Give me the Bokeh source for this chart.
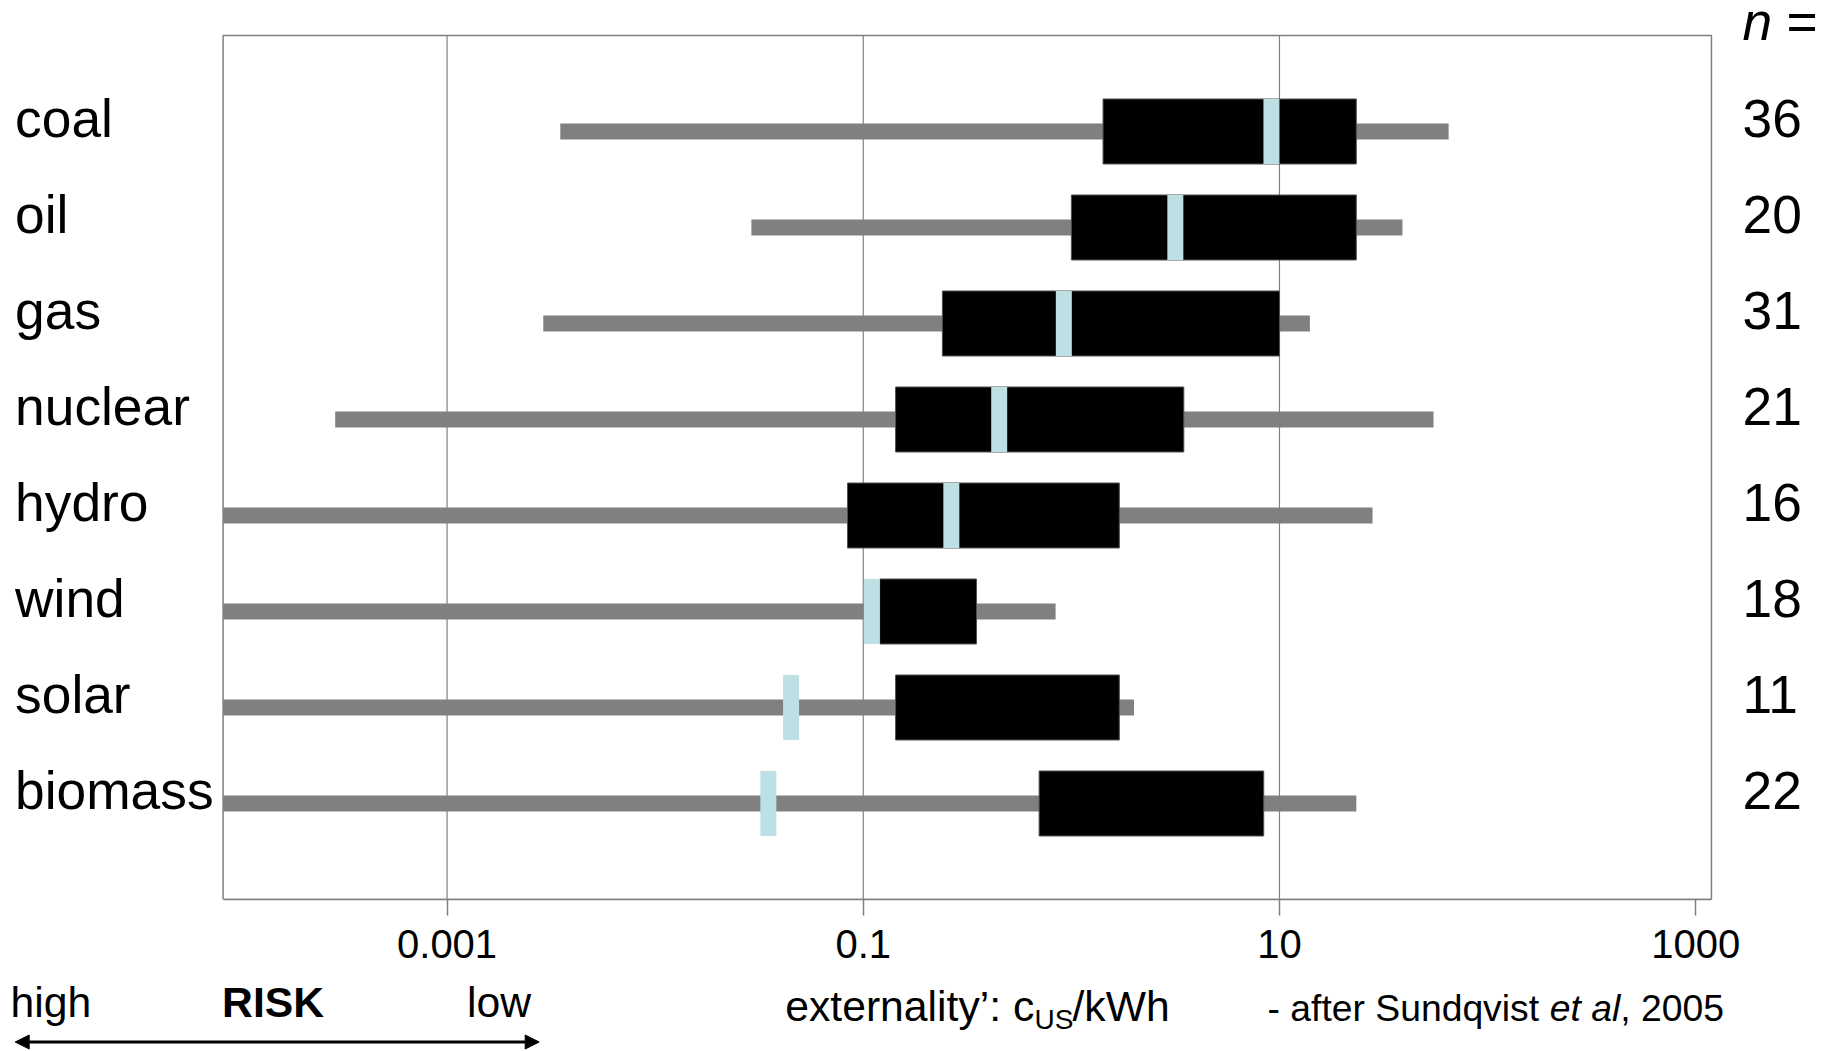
import math
import numpy as np
from bokeh.plotting import figure
from bokeh.layouts import column
from bokeh.core.properties import value
from bokeh.models import (Range1d, FixedTicker, ColumnDataSource, LabelSet, Label,
                          Arrow, NormalHead)
from bokeh.embed import file_html
from bokeh.resources import INLINE

# ---------------- data ----------------
categories = ["coal", "oil", "gas", "nuclear", "hydro", "wind", "solar", "biomass"]
n_values = [36, 20, 31, 21, 16, 18, 11, 22]
whisker_low = [0.0035, 0.029, 0.0029, 0.00029, 0.00001, 0.00001, 0.00001, 0.00001]
whisker_high = [65, 39, 14, 55, 28, 0.84, 2.0, 23.4]
box_low = [1.42, 1.0, 0.24, 0.143, 0.084, 0.12, 0.143, 0.70]
box_high = [23.4, 23.4, 10.0, 3.47, 1.70, 0.35, 1.70, 8.4]
median = [9.15, 3.16, 0.92, 0.45, 0.265, 0.11, 0.045, 0.035]
tick_values = [0.001, 0.1, 10, 1000]
tick_labels = ["0.001", "0.1", "10", "1000"]
grid_values = [0.001, 0.1, 10]   # interior grid lines (1000 is the box edge)

# ---------------- layout constants ----------------
FONT = "Liberation Sans"
GREY = "#808080"
W = 1837
MAIN_H = 972
BOT_H = 1050 - MAIN_H
BOX_LEFT_PX = 222.6          # canvas x of the plot box's left edge
BOX_TOP_PX = 35              # canvas y of the plot box's top edge
ROW_PX = 96                  # pixels per category row
X_LO, X_HI = 8.39e-5, 1191   # value range covered by the plot box
DEC_PX = 208.1               # pixels per decade

nrows = len(categories)
ypos = [nrows - i for i in range(nrows)]
box_top = nrows + 1
frame_h = BOX_TOP_PX + box_top * ROW_PX

x_start = 10 ** (math.log10(X_LO) - BOX_LEFT_PX / DEC_PX)
x_end = 10 ** (math.log10(X_LO) + (W - BOX_LEFT_PX) / DEC_PX)

src = ColumnDataSource(dict(
    y=ypos, cat=categories, n=[str(v) for v in n_values],
    wlo=np.maximum(whisker_low, X_LO), whi=whisker_high,
    blo=box_low, bhi=box_high, med=median,
))

p = figure(width=W, height=MAIN_H, x_axis_type="log", output_backend="svg",
           toolbar_location=None, y_axis_location=None,
           x_range=Range1d(x_start, x_end), y_range=Range1d(0, box_top + BOX_TOP_PX / ROW_PX),
           min_border_left=0, min_border_right=0, min_border_top=0,
           min_border_bottom=MAIN_H - frame_h)
p.grid.visible = False
p.outline_line_color = None
p.background_fill_color = "white"
p.border_fill_color = "white"

ax = p.xaxis[0]
ax.ticker = FixedTicker(ticks=tick_values, minor_ticks=[])
ax.major_label_overrides = dict(zip(tick_values, tick_labels))
ax.bounds = (X_LO, X_HI)
ax.major_label_text_font = FONT
ax.major_label_text_font_size = "40px"
ax.major_label_text_color = "black"
ax.major_label_standoff = 14
ax.major_tick_out = 16
ax.major_tick_in = 0
ax.major_tick_line_color = GREY
ax.major_tick_line_width = 1.5
ax.minor_tick_line_color = None
ax.axis_line_color = GREY
ax.axis_line_width = 1.5

# plot box and vertical grid lines
p.quad(left=X_LO, right=X_HI, bottom=0, top=box_top, fill_color=None,
       line_color=GREY, line_width=1.5)
p.segment(x0=grid_values, x1=grid_values, y0=0, y1=box_top, line_color=GREY, line_width=1.2)

# whiskers (full range), boxes, medians
p.hbar(y="y", left="wlo", right="whi", height=0.165, source=src,
       fill_color=GREY, line_color=None)
p.hbar(y="y", left="blo", right="bhi", height=0.677, source=src,
       fill_color="black", line_color="#505050", line_width=1)
p.rect(x="med", y="y", width=16, width_units="screen", height=0.677, source=src,
       fill_color="#bde0e4", line_color=None)

# category labels on the left, n on the right
for xx, col in [(14.6, "cat"), (1742, "n")]:
    p.add_layout(LabelSet(x=xx, x_units="screen", y="y", text=col, source=src,
                          y_offset=-5, text_font=value(FONT), text_font_size="53.3px",
                          text_baseline="alphabetic", text_align="left", text_color="black"))
for xx, t, st in [(1742, "n", "italic"), (1786, "=", "normal")]:
    p.add_layout(Label(x=xx, y=frame_h - 21, x_units="screen", y_units="screen", text=t,
                       text_font=FONT, text_font_size="53.3px", text_font_style=st,
                       text_baseline="alphabetic", text_align="left", text_color="black"))

# ---------------- bottom strip: RISK arrow, axis title, source ----------------
b = figure(width=W, height=BOT_H, output_backend="svg", toolbar_location=None,
           x_axis_location=None, y_axis_location=None,
           x_range=Range1d(0, W), y_range=Range1d(BOT_H, 0),
           min_border_left=0, min_border_right=0, min_border_top=0, min_border_bottom=0)
b.grid.visible = False
b.outline_line_color = None
b.background_fill_color = "white"
b.border_fill_color = "white"

bottom_texts = [
    (10.1, 29, "high", "42.7px", "normal"),
    (221.6, 29, "RISK", "42.7px", "bold"),
    (466.6, 29, "low", "42.7px", "normal"),
    (784.7, 33, "externality\u2019: c", "42.7px", "normal"),
    (1034, 47, "US", "28px", "normal"),
    (1072, 33, "/kWh", "42.7px", "normal"),
    (1267, 35, "- after Sundqvist", "37.3px", "normal"),
    (1549.2, 35, "et al", "37.3px", "italic"),
    (1619.8, 35, ", 2005", "37.3px", "normal"),
]
for xx, yy, t, sz, st in bottom_texts:
    b.add_layout(Label(x=xx, y=yy, text=t, text_font=FONT, text_font_size=sz,
                       text_font_style=st, text_baseline="alphabetic", text_align="left",
                       text_color="black"))

b.add_layout(Arrow(start=NormalHead(size=14, fill_color="black", line_color="black"),
                   end=NormalHead(size=14, fill_color="black", line_color="black"),
                   x_start=14.7, y_start=69.5, x_end=538.7, y_end=69.5,
                   line_color="black", line_width=3))

layout = column(p, b, spacing=0)
open("out.html", "w").write(file_html(layout, INLINE))
